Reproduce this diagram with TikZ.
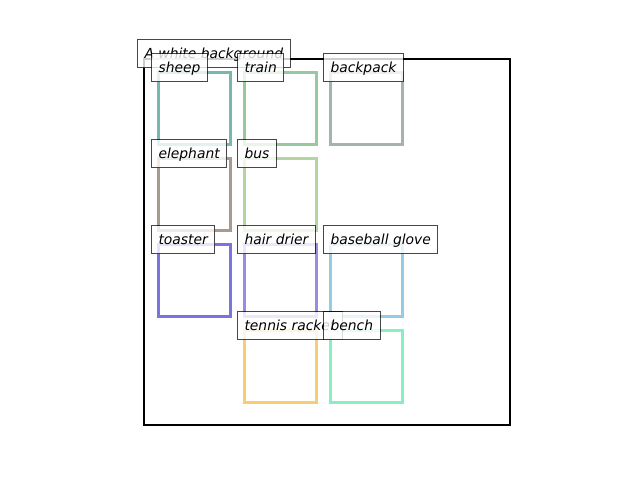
\documentclass[tikz,border=0pt]{standalone}
\usepackage{fontspec}
\setmainfont{DejaVu Sans}
\begin{document}
\begin{tikzpicture}[x=0.75pt,y=-0.75pt,
  lbl/.style={anchor=west, draw=black, draw opacity=0.72, line width=0.8pt,
    fill=white, fill opacity=0.8, text opacity=1, inner xsep=5.25pt, inner ysep=0pt,
    minimum height=21pt, text height=9.5pt, text depth=2pt,
    font=\fontsize{10.4}{12}\selectfont\itshape},
  obox/.style={draw=#1, line width=2.25pt, anchor=north west, minimum width=54pt,
    minimum height=54pt, inner sep=0pt, outer sep=0pt}]
\definecolor{csheep}{HTML}{74B8AE}
\definecolor{ctrain}{HTML}{98C8A0}
\definecolor{cbackpack}{HTML}{A2B4AC}
\definecolor{celephant}{HTML}{A89A8C}
\definecolor{cbus}{HTML}{B4D4A0}
\definecolor{ctoaster}{HTML}{7A74E0}
\definecolor{chair}{HTML}{9C8CE0}
\definecolor{cglove}{HTML}{94CCE4}
\definecolor{ctennis}{HTML}{F8CC70}
\definecolor{cbench}{HTML}{88F0C0}
\useasboundingbox (0,0) rectangle (640,480);
\node[draw=black, line width=1.5pt, anchor=north west, minimum width=274.5pt,
  minimum height=274.5pt, inner sep=0pt, outer sep=0pt] (frame) at (144,59) {};
\node[obox=csheep] (bsheep) at (158.5,72.5) {};
\node[obox=ctrain] (btrain) at (244.5,72.5) {};
\node[obox=cbackpack] (bbackpack) at (330.5,72.5) {};
\node[obox=celephant] (belephant) at (158.5,158.5) {};
\node[obox=cbus] (bbus) at (244.5,158.5) {};
\node[obox=ctoaster] (btoaster) at (158.5,244.5) {};
\node[obox=chair] (bhair) at (244.5,244.5) {};
\node[obox=cglove] (bglove) at (330.5,244.5) {};
\node[obox=ctennis] (btennis) at (244.5,330.5) {};
\node[obox=cbench] (bbench) at (330.5,330.5) {};
\node[lbl] (ltitle) at (137,53.5) {A white background};
\node[lbl] (lsheep) at (151,67.5) {sheep};
\node[lbl] (ltrain) at (237,67.5) {train};
\node[lbl] (lbackpack) at (323,67.5) {backpack};
\node[lbl] (lelephant) at (151,153.5) {elephant};
\node[lbl] (lbus) at (237,153.5) {bus};
\node[lbl] (ltoaster) at (151,239.5) {toaster};
\node[lbl] (lhair) at (237,239.5) {hair drier};
\node[lbl] (lglove) at (323,239.5) {baseball glove};
\node[lbl] (ltennis) at (237,325.5) {tennis racket};
\node[lbl] (lbench) at (323,325.5) {bench};
\end{tikzpicture}
\end{document}
